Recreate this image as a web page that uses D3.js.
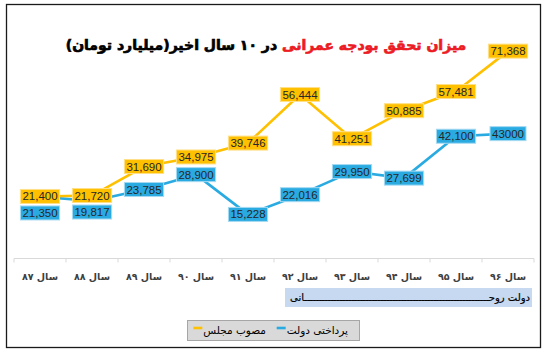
<!DOCTYPE html>
<html><head><meta charset="utf-8">
<script src="https://cdn.jsdelivr.net/npm/d3@7"></script>
<style>
html,body{margin:0;padding:0;background:#fff;}
svg{display:block;}
</style></head>
<body>
<svg id="chart" width="546" height="355"></svg>
<script>
const categories = ["سال ۸۷","سال ۸۸","سال ۸۹","سال ۹۰","سال ۹۱","سال ۹۲","سال ۹۳","سال ۹۴","سال ۹۵","سال ۹۶"];
const approved = [21400,21720,31690,34975,39746,56444,41251,50885,57481,71368]; // مصوب مجلس
const paid = [21350,19817,23785,28900,15228,22016,29950,27699,42100,43000];      // پرداختی دولت
const paidLabels = ["21,350","19,817","23,785","28,900","15,228","22,016","29,950","27,699","42,100","43000"];
const approvedLabels = ["21,400","21,720","31,690","34,975","39,746","56,444","41,251","50,885","57,481","71,368"];
const seriesNames = ["پرداختی دولت","مصوب مجلس"];
const titleRed = "میزان تحقق بودجه عمرانی";
const titleBlack = "در ۱۰ سال اخیر(میلیارد تومان)";
const govLabelStart = "سال ۹۲";
const govText = "دولت روح" + "ـ".repeat(63) + "انی";

const ORANGE = "#ffc000", BLUE = "#29abe2";
const svg = d3.select("#chart");

// outer border
svg.append("rect").attr("x",6.5).attr("y",4.5).attr("width",534).attr("height",343)
  .attr("fill","#fff").attr("stroke","#1a1a1a").attr("stroke-width",1.3);

const x = d3.scaleBand().domain(categories).range([14,534]);
const y = d3.scaleLinear().domain([0,80000]).range([258.7,26]);
const cx = c => x(c) + x.bandwidth()/2;

// x axis
const axisG = svg.append("g").attr("transform","translate(0,258.5)");
axisG.append("line").attr("x1",14).attr("x2",534).attr("stroke","#d9d9d9").attr("stroke-width",1);
const tickPos = categories.map(c=>x(c)).concat([x.range()[1]]);
axisG.selectAll("line.tk").data(tickPos).join("line").attr("class","tk")
  .attr("x1",d=>d).attr("x2",d=>d).attr("y1",0).attr("y2",4).attr("stroke","#d9d9d9");
axisG.selectAll("text").data(categories).join("text")
  .attr("x",d=>cx(d)).attr("y",21).attr("text-anchor","middle")
  .attr("font-family","DejaVu Sans").attr("font-size",9.5).attr("font-weight","bold")
  .attr("fill","#404040").attr("direction","rtl").text(d=>d);

// government band
const bx0 = x(govLabelStart)+11, bx1 = x.range()[1]-2;
svg.append("rect").attr("x",bx0).attr("y",288).attr("width",bx1-bx0).attr("height",19)
  .attr("fill","#c6d9f0");
svg.append("text").attr("x",bx1-2).attr("y",301).attr("text-anchor","start").attr("direction","rtl")
  .attr("font-family","DejaVu Sans").attr("font-size",10).attr("fill","#000")
  .attr("stroke","#000").attr("stroke-width",0.2).text(govText);

// lines
const line = d3.line().x((d,i)=>cx(categories[i])).y(d=>y(d));
svg.append("path").datum(paid).attr("d",line).attr("fill","none").attr("stroke",BLUE).attr("stroke-width",2.6).attr("stroke-linejoin","round");
svg.append("path").datum(approved).attr("d",line).attr("fill","none").attr("stroke",ORANGE).attr("stroke-width",2.6).attr("stroke-linejoin","round");

// labels
function drawLabel(g, px, py, txt, fill, stroke){
  const gg = g.append("g");
  const t = gg.append("text").attr("x",px).attr("y",py+4).attr("text-anchor","middle")
    .attr("font-family","'Liberation Sans Narrow','Liberation Sans',Arial").attr("font-size",11.5)
    .attr("fill","#262626").text(txt);
  const w = Math.max(t.node().getComputedTextLength()+4, 30);
  gg.insert("rect","text").attr("x",px-w/2).attr("y",py-7).attr("width",w).attr("height",14)
    .attr("fill",fill).attr("stroke",stroke).attr("stroke-width",1);
}
const lg = svg.append("g");
approved.forEach((v,i)=>{
  drawLabel(lg, cx(categories[i]), y(v), approvedLabels[i], ORANGE, "#ffe08a");
});
paid.forEach((v,i)=>{
  let py = y(v);
  const oy = y(approved[i]);
  if (Math.abs(py-oy) < 15) py = oy + 16.5;
  drawLabel(lg, cx(categories[i]), py, paidLabels[i], BLUE, "#a6d9f2");
});

// title
const tg = svg.append("g");
const tRed = tg.append("text").attr("y",50).attr("text-anchor","middle").attr("direction","rtl")
  .attr("font-family","DejaVu Sans").attr("font-weight","bold").attr("font-size",14)
  .attr("fill","#ec1c24").attr("stroke","#ec1c24").attr("stroke-width",0.7).text(titleRed);
const tBlk = tg.append("text").attr("y",50).attr("text-anchor","middle").attr("direction","rtl")
  .attr("font-family","DejaVu Sans").attr("font-weight","bold").attr("font-size",14)
  .attr("fill","#000").attr("stroke","#000").attr("stroke-width",0.7).text(titleBlack);
const wr = tRed.node().getComputedTextLength(), wb = tBlk.node().getComputedTextLength();
const gap = 5, total = wr+wb+gap, left = 266 - total/2;
tBlk.attr("x", left + wb/2);
tRed.attr("x", left + wb + gap + wr/2);

// legend
const leg = svg.append("g");
leg.append("rect").attr("x",187.5).attr("y",320.5).attr("width",172).attr("height",20)
  .attr("fill","#d9d9d9").attr("stroke","#a6a6a6");
const legItems = [{name:seriesNames[0],color:BLUE,right:348},{name:seriesNames[1],color:ORANGE,right:266}];
legItems.forEach(it=>{
  const t = leg.append("text").attr("x",it.right).attr("y",334).attr("text-anchor","start").attr("direction","rtl")
    .attr("font-family","DejaVu Sans").attr("font-size",10.5).attr("fill","#000").text(it.name);
  const w = t.node().getComputedTextLength();
  const lx = it.right - w - 1;
  leg.append("line").attr("x1",lx-9).attr("x2",lx).attr("y1",328).attr("y2",328)
    .attr("stroke",it.color).attr("stroke-width",2.6);
});
</script>
</body></html>
